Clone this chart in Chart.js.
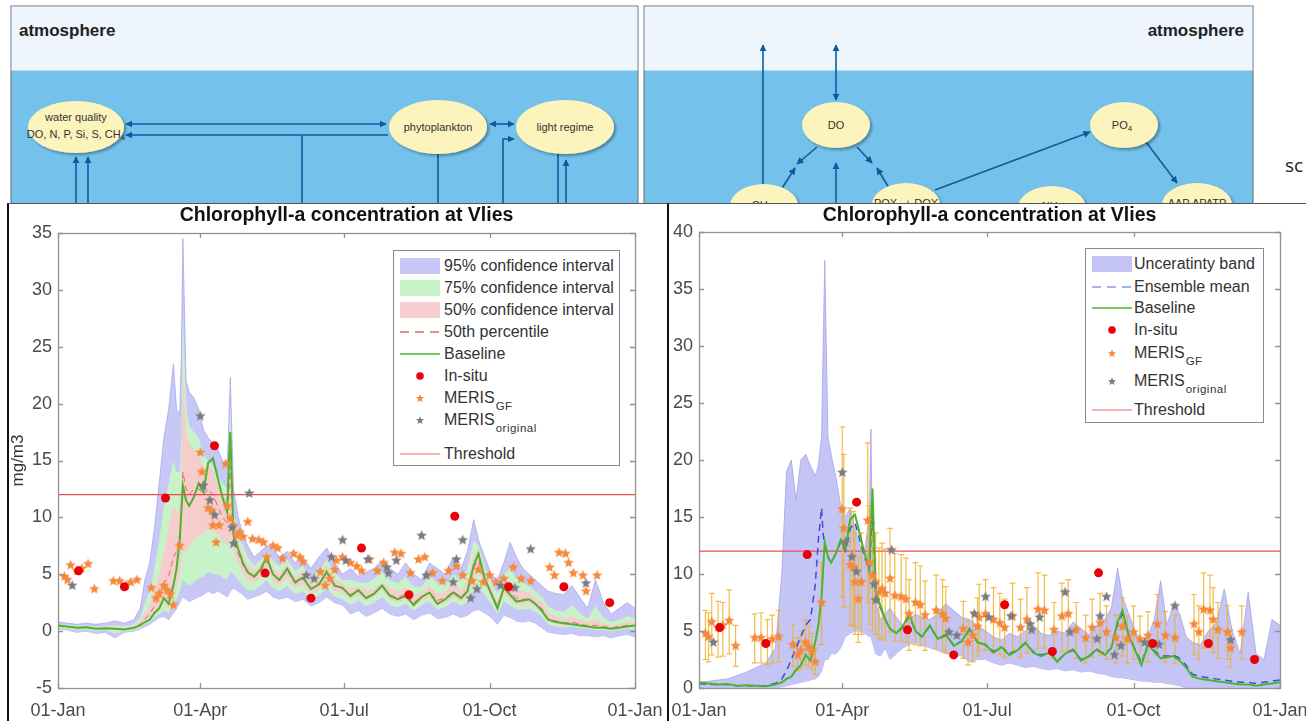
<!DOCTYPE html>
<html>
<head>
<meta charset="utf-8">
<script src="https://cdn.jsdelivr.net/npm/chart.js@4.4.1/dist/chart.umd.min.js"></script>
<style>
  body { margin: 0; width: 1306px; height: 721px; overflow: hidden; background: #fff; position: relative;
         font-family: "Liberation Sans", Arial, sans-serif; }
  .panel { position: absolute; top: 203px; height: 518px; background: #fff; box-sizing: border-box;
           border-top: 1px solid #555; border-left: 2px solid #111; }
  canvas { position: absolute; }
  .legend { position: absolute; background: #fff; border: 1px solid #8a8a8a; box-sizing: border-box; color: #333; font-size: 16px; }
  .lrow { position: absolute; left: 0; height: 20px; white-space: nowrap; }
  .lrow svg { position: absolute; left: 5px; top: 0; }
  .lrow span { position: absolute; top: 1px; line-height: 18px; }
  .lrow sub { font-size: 11.5px; vertical-align: -7px; margin-left: 1px; letter-spacing: 0.5px; }
</style>
</head>
<body>

<svg width="1306" height="210" style="position:absolute;left:0;top:0">
  <defs>
    <marker id="ah" viewBox="0 0 10 10" refX="9" refY="5" markerWidth="4.5" markerHeight="4.5" orient="auto-start-reverse">
      <path d="M0,0 L10,5 L0,10 z" fill="#0b5a9a"/>
    </marker>
    <filter id="sh" x="-20%" y="-20%" width="150%" height="150%">
      <feDropShadow dx="2" dy="2" stdDeviation="1.5" flood-color="#000" flood-opacity="0.35"/>
    </filter>
  </defs>
  <g stroke="#0d5c9e" stroke-width="1.6" fill="none">
    <rect x="11" y="6" width="627" height="200" fill="#74c2eb" stroke="#6b6b6b" stroke-width="1"/>
    <rect x="11.5" y="6.5" width="626" height="64" fill="#eef5fc" stroke="none"/>
    <rect x="644" y="6" width="609" height="200" fill="#74c2eb" stroke="#6b6b6b" stroke-width="1"/>
    <rect x="644.5" y="6.5" width="608" height="64" fill="#eef5fc" stroke="none"/>

    <line x1="126" y1="124" x2="386" y2="124" marker-start="url(#ah)" marker-end="url(#ah)"/>
    <line x1="388" y1="135" x2="126" y2="135" marker-end="url(#ah)"/>
    <line x1="302" y1="135" x2="302" y2="206"/>
    <line x1="490" y1="124" x2="514" y2="124" marker-start="url(#ah)" marker-end="url(#ah)"/>
    <polyline points="503,206 503,139 514,139" marker-end="url(#ah)"/>
    <line x1="76" y1="206" x2="76" y2="157" marker-end="url(#ah)"/>
    <line x1="88" y1="206" x2="88" y2="157" marker-end="url(#ah)"/>
    <line x1="438" y1="150" x2="438" y2="206"/>
    <line x1="558" y1="150" x2="558" y2="206"/>
    <line x1="566" y1="206" x2="566" y2="160" marker-end="url(#ah)"/>

    <line x1="763" y1="206" x2="763" y2="45" marker-end="url(#ah)"/>
    <line x1="836" y1="100" x2="836" y2="45" marker-start="url(#ah)" marker-end="url(#ah)"/>
    <line x1="817" y1="147" x2="797" y2="164" marker-end="url(#ah)"/>
    <line x1="779" y1="193" x2="795" y2="168" marker-end="url(#ah)"/>
    <line x1="857" y1="147" x2="872" y2="163" marker-end="url(#ah)"/>
    <line x1="892" y1="193" x2="877" y2="168" marker-end="url(#ah)"/>
    <line x1="836" y1="206" x2="836" y2="163" marker-end="url(#ah)"/>
    <line x1="935" y1="190" x2="1090" y2="132" marker-end="url(#ah)"/>
    <line x1="1143" y1="138" x2="1177" y2="183" marker-end="url(#ah)"/>
  </g>
  <g fill="#fbf4bd" filter="url(#sh)">
    <ellipse cx="76" cy="127" rx="48" ry="26"/>
    <ellipse cx="438" cy="127" rx="49" ry="27"/>
    <ellipse cx="565" cy="127" rx="49" ry="27"/>
    <ellipse cx="205" cy="226" rx="36" ry="23"/>
    <ellipse cx="836" cy="125" rx="34" ry="23"/>
    <ellipse cx="1124" cy="125" rx="34" ry="23"/>
    <ellipse cx="764" cy="206" rx="34" ry="22"/>
    <ellipse cx="906" cy="205" rx="34" ry="22"/>
    <ellipse cx="1052" cy="208" rx="34" ry="22"/>
    <ellipse cx="1197" cy="205" rx="35" ry="22"/>
  </g>
  <g font-family="Liberation Sans Narrow, Liberation Sans" fill="#333" font-size="11" text-anchor="middle">
    <text x="76" y="121">water quality</text>
    <text x="76" y="138">DO, N, P, Si, S, CH<tspan font-size="8" dy="2">4</tspan></text>
    <text x="438" y="131">phytoplankton</text>
    <text x="565" y="131">light regime</text>
    <text x="836" y="129">DO</text>
    <text x="1122" y="129">PO<tspan font-size="8" dy="2">4</tspan></text>
    <text x="762" y="209">CH<tspan font-size="8" dy="2">4</tspan></text>
    <text x="906" y="207">POX<tspan font-size="8" dy="2">4</tspan><tspan dy="-2"> + DOX</tspan></text>
    <text x="1052" y="210">NH<tspan font-size="8" dy="2">4</tspan></text>
    <text x="1197" y="207">AAP APATP</text>
  </g>
  <g font-family="Liberation Sans Narrow, Liberation Sans" font-weight="bold" font-size="17" fill="#222">
    <text x="19" y="36">atmosphere</text>
    <text x="1244" y="36" text-anchor="end">atmosphere</text>
  </g>
  <text x="1285" y="172" font-family="Open Sans" font-size="19" fill="#222">sc</text>
</svg>

<div class="panel" style="left:7px;width:661px"></div>
<div class="panel" style="left:667px;width:639px"></div>

<canvas id="left" width="660" height="518" style="left:8px;top:203px"></canvas>
<canvas id="right" width="638" height="518" style="left:668px;top:203px"></canvas>

<div id="legL" class="legend" style="left:393px;top:250px;width:227px;height:216px"></div>
<div id="legR" class="legend" style="left:1085px;top:248px;width:179px;height:175px"></div>

<script>
// day-of-year grid shared by the model curves
const days = [
  0, 6, 12, 18, 24, 30, 36, 42, 48, 52,
  55, 58, 61, 64, 67, 70, 73, 75, 77, 78,
  79, 81, 83, 86, 89, 92, 95, 98, 101, 104,
  107, 108, 109, 111, 114, 117, 120, 124, 128, 132,
  136, 140, 145, 150, 155, 160, 165, 170, 175, 180,
  185, 190, 195, 200, 205, 210, 215, 220, 225, 230,
  235, 240, 245, 250, 255, 259, 263, 266, 270, 274,
  278, 282, 286, 290, 294, 298, 302, 306, 310, 315,
  320, 325, 330, 335, 340, 345, 350, 355, 360, 365
];

const baseline = [
  0.5, 0.4, 0.3, 0.35, 0.2, 0.25, 0.2, 0.15, 0.3, 0.5,
  0.8, 1.0, 1.6, 2.0, 2.9, 2.4, 4.0, 5.5, 8.0, 10.5,
  12.8, 11.5, 11.0, 11.8, 13.0, 12.2, 14.8, 15.2, 13.5, 11.8,
  10.5, 14.5, 17.5, 8.5, 7.2, 6.0, 5.2, 4.8, 5.4, 6.5,
  5.0, 4.5, 5.5, 4.3, 4.7, 3.7, 4.1, 5.2, 4.0, 3.8,
  3.1, 3.6, 2.9, 3.3, 4.0, 3.1, 2.8, 3.1, 2.3, 3.0,
  3.4, 2.4, 2.8, 3.4, 2.9, 3.5, 5.8, 6.8, 4.6, 3.3,
  2.0, 3.8, 3.2, 2.6, 2.7, 2.8, 2.4, 1.8, 1.0, 0.8,
  0.7, 0.6, 0.5, 0.4, 0.3, 0.3, 0.2, 0.3, 0.4, 0.5
];

const ci95Hi = [
  0.8, 0.7, 0.6, 0.7, 0.6, 0.7, 0.9, 0.7, 1.0, 2.0,
  4.5, 6.0, 9.0, 13.0, 17.0, 19.5, 23.5, 19.5, 19.0, 24.0,
  34.5, 22.0, 21.0, 20.5, 19.5, 17.7, 17.0, 16.5, 16.0, 15.0,
  14.5, 18.0, 22.3, 12.5, 10.0, 8.5, 7.5, 6.5, 7.0, 7.5,
  7.3, 6.5, 7.0, 6.0, 6.5, 5.5, 6.5, 7.3, 6.0, 5.0,
  5.5, 4.8, 5.2, 5.5, 6.2, 5.5, 5.0, 6.0, 5.0, 4.5,
  6.0, 5.5, 5.0, 6.5, 5.5, 7.0, 9.8, 8.0, 6.5, 5.0,
  4.5, 6.0, 7.8, 6.5, 5.5, 5.0, 4.5, 4.0, 3.5, 3.3,
  3.2, 4.0, 3.0, 2.0, 4.5, 2.5, 1.5, 2.0, 2.5, 2.0
];
const ci95Lo = [
  0.2, 0.1, -0.1, 0.0, -0.2, -0.1, -0.6, -0.1, 0.0, 0.2,
  0.4, 0.6, 0.9, 1.2, 1.3, 1.0, 1.6, 2.0, 2.5, 2.8,
  3.0, 2.8, 2.6, 2.8, 3.0, 3.2, 3.5, 3.3, 3.5, 3.3,
  3.0, 3.2, 3.5, 3.8, 3.5, 3.2, 2.8, 3.0, 3.2, 3.5,
  3.0, 2.8, 3.0, 2.6, 2.8, 2.2, 2.5, 3.0, 2.5, 2.3,
  1.5, 1.8, 1.3, 1.6, 2.0, 1.5, 1.3, 1.5, 1.0, 1.4,
  1.6, 1.1, 1.2, 1.5, 1.2, 1.4, 1.8, 1.9, 1.6, 1.2,
  0.6, 1.4, 1.2, 0.9, 0.8, 0.9, 0.7, 0.3, -0.1, -0.2,
  -0.3, -0.2, -0.4, -0.4, -0.5, -0.4, -0.6, -0.4, -0.3, -0.5
];
const ci75Hi = [
  0.6, 0.55, 0.5, 0.5, 0.4, 0.45, 0.5, 0.4, 0.6, 1.2,
  2.5, 3.5, 5.5, 8.0, 11.0, 13.0, 15.0, 14.0, 14.0, 17.0,
  28.0, 20.0, 18.0, 17.5, 17.0, 15.5, 15.0, 14.5, 13.8, 13.0,
  12.5, 16.0, 20.0, 10.5, 8.5, 7.5, 6.5, 5.8, 6.2, 7.0,
  6.2, 5.7, 6.3, 5.3, 5.7, 4.7, 5.3, 6.3, 5.1, 4.5,
  4.5, 4.3, 4.2, 4.6, 5.2, 4.5, 4.2, 4.8, 3.9, 3.9,
  4.8, 4.2, 4.1, 5.0, 4.4, 5.5, 8.0, 7.5, 5.6, 4.3,
  3.3, 5.0, 5.5, 4.6, 4.3, 4.0, 3.5, 3.0, 2.2, 1.8,
  1.7, 2.3, 1.6, 1.1, 2.2, 1.2, 0.8, 1.0, 1.3, 1.1
];
const ci75Lo = [
  0.3, 0.2, 0.1, 0.15, 0.0, 0.1, -0.2, 0.0, 0.1, 0.3,
  0.6, 0.8, 1.2, 1.5, 1.8, 1.6, 2.4, 2.8, 3.5, 4.0,
  4.5, 4.2, 4.0, 4.3, 4.6, 4.8, 5.2, 5.0, 5.0, 4.7,
  4.5, 4.8, 5.2, 5.0, 4.5, 4.0, 3.6, 3.6, 4.0, 4.5,
  3.8, 3.5, 4.0, 3.2, 3.5, 2.8, 3.1, 3.8, 3.0, 2.8,
  2.3, 2.7, 2.2, 2.5, 3.0, 2.3, 2.1, 2.4, 1.8, 2.3,
  2.6, 1.9, 2.1, 2.6, 2.2, 2.6, 3.6, 3.8, 3.2, 2.4,
  1.5, 2.6, 2.3, 1.9, 1.9, 2.0, 1.7, 1.3, 0.6, 0.4,
  0.3, 0.4, 0.3, 0.2, 0.1, 0.1, 0.0, 0.1, 0.2, 0.2
];
const ci50Hi = [
  0.5, 0.45, 0.4, 0.4, 0.3, 0.35, 0.35, 0.3, 0.45, 0.8,
  1.6, 2.2, 3.5, 5.0, 7.0, 9.0, 11.0, 10.5, 11.0, 13.0,
  22.7, 17.5, 16.5, 16.0, 15.5, 14.5, 14.5, 14.2, 13.0, 12.0,
  11.5, 15.0, 18.5, 9.5, 7.8, 6.8, 5.9, 5.3, 5.8, 6.8,
  5.6, 5.1, 5.9, 4.8, 5.2, 4.2, 4.7, 5.8, 4.6, 4.2,
  3.8, 3.9, 3.6, 3.7, 4.3, 3.8, 3.5, 3.9, 3.1, 3.4,
  4.0, 3.3, 3.4, 4.2, 3.6, 4.5, 6.8, 7.2, 5.1, 3.8,
  2.6, 4.4, 4.2, 3.6, 3.5, 3.4, 2.9, 2.6, 1.6, 1.3,
  1.1, 1.3, 1.0, 0.8, 1.0, 0.7, 0.5, 0.6, 0.8, 0.8
];
const ci50Lo = [
  0.4, 0.3, 0.2, 0.25, 0.1, 0.15, 0.05, 0.05, 0.2, 0.4,
  0.7, 0.9, 1.4, 1.8, 2.4, 2.0, 3.2, 3.8, 5.0, 6.0,
  7.0, 7.0, 7.5, 8.0, 8.5, 8.5, 9.0, 8.8, 8.5, 8.0,
  7.5, 8.0, 8.5, 7.0, 6.0, 5.0, 4.5, 4.2, 4.7, 5.6,
  4.4, 4.0, 4.7, 3.7, 4.1, 3.2, 3.6, 4.5, 3.5, 3.3,
  2.8, 3.2, 2.6, 3.0, 3.6, 2.8, 2.5, 2.8, 2.1, 2.7,
  3.0, 2.2, 2.5, 3.0, 2.6, 3.0, 4.6, 5.3, 4.0, 3.0,
  1.8, 3.2, 2.8, 2.3, 2.3, 2.4, 2.1, 1.6, 0.8, 0.6,
  0.5, 0.5, 0.4, 0.3, 0.2, 0.2, 0.1, 0.2, 0.3, 0.4
];
const median50 = [
  0.45, 0.35, 0.3, 0.3, 0.2, 0.25, 0.2, 0.15, 0.3, 0.6,
  1.1, 1.5, 2.2, 3.0, 4.2, 4.8, 6.5, 7.0, 8.5, 10.0,
  14.0, 12.5, 12.0, 12.5, 12.5, 12.0, 12.5, 12.0, 11.0, 10.0,
  9.5, 12.0, 14.5, 8.2, 6.8, 5.8, 5.1, 4.7, 5.2, 6.2,
  5.0, 4.5, 5.3, 4.2, 4.6, 3.7, 4.1, 5.1, 4.0, 3.7,
  3.2, 3.5, 3.0, 3.3, 3.9, 3.2, 2.9, 3.3, 2.5, 3.0,
  3.4, 2.7, 2.9, 3.5, 3.0, 3.6, 5.6, 6.2, 4.5, 3.4,
  2.2, 3.8, 3.4, 2.9, 2.8, 2.8, 2.4, 2.0, 1.1, 0.9,
  0.7, 0.8, 0.6, 0.5, 0.5, 0.4, 0.3, 0.4, 0.5, 0.5
];

// right panel: ensemble uncertainty band and mean
const ensHi = [
  0.5, 0.6, 0.7, 0.8, 1.1, 1.4, 1.8, 2.2, 3.5, 10.0,
  19.0, 20.0, 16.5, 20.0, 20.5, 19.5, 18.6, 19.5, 22.0, 30.0,
  37.5, 22.0, 20.5, 18.5, 16.0, 15.0, 15.8, 14.0, 12.5, 12.0,
  15.0, 22.7, 12.0, 7.5, 6.0, 6.5, 7.0, 6.2, 5.5, 6.0,
  6.5, 6.2, 6.0, 6.5, 7.4, 6.8, 6.2, 6.0, 5.5, 5.0,
  4.5, 4.2, 4.8, 4.5, 5.0, 5.5, 4.8, 4.6, 5.0, 4.8,
  5.8, 5.2, 4.7, 5.5, 6.0, 7.0, 10.5, 8.0, 6.5, 5.0,
  4.0, 4.5, 6.0, 9.4, 5.5, 7.4, 6.5, 4.5, 4.0, 3.8,
  5.0, 5.7, 8.7, 5.0, 3.0, 8.4, 3.0, 2.5, 6.0, 5.5
];
const ensLo = [
  0.05, 0.0, 0.0, 0.0, 0.0, 0.0, 0.0, 0.0, 0.0, 0.1,
  0.2, 0.3, 0.4, 0.5, 0.6, 0.7, 0.8, 1.0, 1.5, 2.0,
  2.5, 2.5, 3.0, 3.0, 3.5, 4.5, 4.8, 5.0, 5.0, 4.8,
  4.5, 4.5, 4.0, 3.0, 2.8, 3.5, 2.5, 3.0, 3.5, 3.8,
  4.0, 3.8, 3.5, 3.3, 3.0, 3.0, 2.8, 2.3, 2.5, 2.5,
  2.2, 2.0, 2.2, 2.0, 1.8, 1.9, 1.7, 1.6, 1.7, 1.5,
  1.6, 1.4, 1.5, 1.3, 1.2, 1.0, 0.9, 0.9, 0.8, 0.7,
  0.6, 0.6, 0.5, 0.5, 0.4, 0.3, 0.2, 0.0, 0.0, 0.0,
  0.0, 0.0, 0.0, 0.0, 0.0, 0.0, 0.0, 0.0, 0.0, 0.0
];
const ensMean = [
  0.4, 0.3, 0.3, 0.3, 0.2, 0.2, 0.2, 0.2, 0.4, 0.8,
  1.5, 2.5, 3.5, 4.5, 5.5, 6.0, 9.0, 13.0, 15.8, 13.5,
  12.5, 11.5, 11.0, 11.8, 12.8, 12.0, 14.0, 14.5, 13.0, 11.5,
  10.3, 13.0, 15.5, 8.3, 7.0, 6.0, 5.2, 4.8, 5.3, 6.3,
  5.0, 4.5, 5.4, 4.3, 4.6, 3.8, 4.1, 5.1, 4.0, 3.8,
  3.2, 3.6, 3.0, 3.3, 3.9, 3.2, 2.9, 3.1, 2.4, 3.0,
  3.3, 2.5, 2.8, 3.3, 3.0, 3.5, 5.6, 6.5, 4.6, 3.4,
  2.2, 3.8, 3.3, 2.8, 2.8, 2.9, 2.6, 2.0, 1.2, 1.0,
  0.9, 0.8, 0.7, 0.6, 0.5, 0.5, 0.4, 0.5, 0.6, 0.7
];

const threshold = 12;

const insituDays = [13, 42, 68, 99, 131, 160, 192, 222, 251, 285, 320, 349];
const insituVals = [5.3, 3.9, 11.7, 16.3, 5.1, 2.9, 7.3, 3.2, 10.1, 3.9, 3.9, 2.5];

const origDays = [9, 90, 92, 96, 99, 110, 111, 121, 157, 162, 173, 180, 182, 196, 208,
                  209, 214, 230, 233, 250, 252, 256, 261, 265, 280, 289, 299, 334];
const origVals = [4.0, 18.9, 12.8, 11.5, 10.2, 9.1, 7.7, 12.1, 4.9, 4.6, 6.5, 8.0, 6.2, 6.3, 5.6,
                  5.1, 6.2, 8.4, 4.9, 4.3, 6.3, 8.0, 2.9, 3.7, 4.0, 3.8, 7.2, 4.2];

const gfDays = [
  4, 6, 8, 12, 15, 19, 23, 35, 39, 43,
  46, 50, 59, 62, 64, 67, 69, 71, 73, 77,
  90, 91, 95, 97, 98, 100, 102, 106, 107, 109,
  111, 113, 115, 117, 120, 123, 127, 130, 132, 136,
  139, 142, 149, 153, 155, 166, 169, 172, 175, 176,
  180, 185, 189, 192, 197, 202, 206, 213, 217, 223,
  228, 232, 237, 243, 247, 252, 256, 262, 266, 269,
  273, 277, 282, 288, 293, 299, 311, 314, 317, 321,
  323, 326, 332, 334, 341
];
const gfVals = [
  4.8, 4.5, 5.8, 5.3, 5.5, 5.9, 3.7, 4.4, 4.4, 4.0,
  4.3, 4.5, 3.8, 2.9, 3.3, 4.0, 3.6, 3.2, 2.3, 7.5,
  15.7, 14.0, 10.8, 10.6, 9.3, 7.8, 9.3, 14.7, 11.0, 9.9,
  9.3, 8.4, 8.7, 8.3, 9.6, 8.1, 8.0, 7.8, 6.5, 7.5,
  7.3, 6.4, 6.8, 6.5, 6.1, 5.2, 4.0, 4.6, 5.4, 6.2,
  6.5, 6.0, 5.7, 5.3, 6.3, 5.3, 6.0, 6.9, 6.8, 5.1,
  6.3, 6.5, 5.1, 4.4, 5.3, 5.7, 4.9, 4.4, 5.4, 4.3,
  4.9, 4.3, 4.6, 5.6, 4.6, 4.4, 5.6, 4.9, 6.9, 6.8,
  6.0, 5.1, 4.9, 3.5, 4.9
];
// MERIS_GF uncertainty (error bar ends, right panel)
const gfHi = [
  6.8, 6.6, 8.3, 7.6, 7.5, 8.6, 5.5, 6.5, 6.6, 6.0,
  6.4, 6.8, 5.6, 4.4, 5.0, 6.0, 5.4, 4.8, 3.5, 11.0,
  22.9, 20.5, 15.8, 15.5, 13.6, 11.5, 13.6, 21.5, 16.0, 14.5,
  13.6, 12.3, 12.7, 12.2, 14.0, 11.8, 11.7, 11.4, 9.5, 11.0,
  10.7, 9.4, 9.9, 9.5, 8.9, 7.6, 5.9, 6.7, 7.9, 9.1,
  9.5, 8.8, 8.3, 7.8, 9.2, 7.8, 8.8, 10.1, 9.9, 7.5,
  9.2, 9.5, 7.5, 6.4, 7.8, 8.3, 7.2, 6.4, 7.9, 6.3,
  7.2, 6.3, 6.7, 8.2, 6.7, 6.4, 8.2, 7.2, 10.1, 9.9,
  8.8, 7.5, 7.2, 5.1, 7.2
];
const gfLo = [
  2.5, 2.3, 2.9, 2.7, 2.8, 3.0, 1.9, 2.2, 2.2, 2.0,
  2.2, 2.3, 1.9, 1.5, 1.7, 2.0, 1.8, 1.6, 1.2, 3.8,
  8.0, 7.1, 5.5, 5.4, 4.7, 4.0, 4.7, 7.5, 5.6, 5.0,
  4.7, 4.3, 4.4, 4.2, 4.9, 4.1, 4.1, 4.0, 3.3, 3.8,
  3.7, 3.3, 3.5, 3.3, 3.1, 2.6, 2.0, 2.3, 2.8, 3.2,
  3.3, 3.1, 2.9, 2.7, 3.2, 2.7, 3.1, 3.5, 3.5, 2.6,
  3.2, 3.3, 2.6, 2.2, 2.7, 2.9, 2.5, 2.2, 2.8, 2.2,
  2.5, 2.2, 2.3, 2.9, 2.3, 2.2, 2.9, 2.5, 3.5, 3.5,
  3.1, 2.6, 2.5, 1.8, 2.5
];

const xTickDays = [0, 90, 181, 273, 365];
const xTickLabels = ['01-Jan', '01-Apr', '01-Jul', '01-Oct', '01-Jan'];

const C = {
  band95: '#c8c8f7', band95Edge: '#a7a7ee',
  band75: '#c8f2c8', band50: '#f6cdcd',
  median: '#e86464', base: '#4ab52c', insitu: '#e8000b',
  gf: '#f5893a', orig: '#7b7b82', thr: '#ec4f4f',
  ensBand: '#c4c4f5', ensEdge: '#a3a3ec', ensMean: '#3a4fd6', err: 'rgba(240,176,40,0.85)'
};

const pts = (xs, ys) => xs.map((x, i) => ({ x: x, y: ys[i] }));

function makeStar(color, r) {
  const c = document.createElement('canvas');
  const s = Math.ceil(r * 2 + 2);
  c.width = s; c.height = s;
  const g = c.getContext('2d');
  g.beginPath();
  for (let i = 0; i < 10; i++) {
    const rr = i % 2 ? r * 0.45 : r;
    const a = -Math.PI / 2 + i * Math.PI / 5;
    g.lineTo(s / 2 + rr * Math.cos(a), s / 2 + rr * Math.sin(a));
  }
  g.closePath();
  g.fillStyle = color;
  g.fill();
  return c;
}
const starGF = makeStar(C.gf, 5.5);
const starOrig = makeStar(C.orig, 5.5);

// error bars as broken line segments
const errPts = [];
gfDays.forEach((d, i) => {
  errPts.push({ x: d, y: gfLo[i] }, { x: d, y: gfHi[i] }, { x: d, y: null },
    { x: d - 1.8, y: gfHi[i] }, { x: d + 1.8, y: gfHi[i] }, { x: d, y: null },
    { x: d - 1.8, y: gfLo[i] }, { x: d + 1.8, y: gfLo[i] }, { x: d, y: null });
});

// matlab-like box, inward ticks and title
const boxPlugin = {
  id: 'matlabBox',
  afterDatasetsDraw(chart, args, opts) {
    const { ctx, chartArea: a } = chart;
    const x = chart.scales.x, y = chart.scales.y;
    ctx.save();
    ctx.strokeStyle = '#929292';
    ctx.lineWidth = 1.3;
    ctx.strokeRect(Math.round(a.left) + 0.5, Math.round(a.top) + 0.5,
      Math.round(a.right - a.left), Math.round(a.bottom - a.top));
    ctx.beginPath();
    y.ticks.forEach(t => {
      const py = Math.round(y.getPixelForValue(t.value)) + 0.5;
      ctx.moveTo(a.left, py); ctx.lineTo(a.left + 5, py);
      ctx.moveTo(a.right, py); ctx.lineTo(a.right - 5, py);
    });
    x.ticks.forEach(t => {
      const px = Math.round(x.getPixelForValue(t.value)) + 0.5;
      ctx.moveTo(px, a.bottom); ctx.lineTo(px, a.bottom - 5);
      ctx.moveTo(px, a.top); ctx.lineTo(px, a.top + 5);
    });
    ctx.stroke();
    ctx.font = 'bold 19.5px "Liberation Sans", Arial, sans-serif';
    ctx.fillStyle = '#111';
    ctx.textAlign = 'center';
    ctx.textBaseline = 'middle';
    ctx.fillText(opts.title, (a.left + a.right) / 2, a.top - opts.titleOffset);
    ctx.restore();
  }
};

const tickFont = { family: '"Liberation Sans", Arial, sans-serif', size: 18 };

function scales(yMin, yMax, yWidth, yTitle) {
  return {
    x: {
      type: 'linear', min: 0, max: 365,
      afterBuildTicks: s => { s.ticks = xTickDays.map(v => ({ value: v })); },
      afterFit: s => { s.height = 33; s.paddingLeft = 0; s.paddingRight = 0; },
      ticks: {
        autoSkip: false, maxRotation: 0, padding: 12, color: '#4a4a4a', font: tickFont,
        callback: v => xTickLabels[xTickDays.indexOf(v)]
      },
      grid: { display: false, drawTicks: false },
      border: { display: false }
    },
    y: {
      min: yMin, max: yMax,
      afterFit: s => { s.width = yWidth; s.paddingTop = 0; s.paddingBottom = 0; },
      ticks: { stepSize: 5, padding: 6, color: '#4a4a4a', font: tickFont },
      grid: { display: false, drawTicks: false },
      border: { display: false },
      title: {
        display: !!yTitle, text: yTitle, color: '#333',
        font: { family: '"Liberation Sans", Arial, sans-serif', size: 17 }, padding: 0
      }
    }
  };
}

const line = (data, color, width, extra) => Object.assign({
  type: 'line', data: data, borderColor: color, borderWidth: width,
  pointRadius: 0, fill: false, tension: 0
}, extra || {});
const scatter = (data, style, order, extra) => Object.assign({
  type: 'line', data: data, showLine: false, pointStyle: style, pointRadius: 5,
  order: order
}, extra || {});

new Chart(document.getElementById('left'), {
  type: 'line',
  data: {
    datasets: [
      line(pts(days, ci95Lo), C.band95Edge, 0.8, { order: 20 }),
      line(pts(days, ci95Hi), C.band95Edge, 0.8, { order: 19, fill: { target: 0 }, backgroundColor: C.band95 }),
      line(pts(days, ci75Lo), C.band75, 0, { order: 18 }),
      line(pts(days, ci75Hi), C.band75, 0, { order: 17, fill: { target: 2 }, backgroundColor: C.band75 }),
      line(pts(days, ci50Lo), C.band50, 0, { order: 16 }),
      line(pts(days, ci50Hi), C.band50, 0, { order: 15, fill: { target: 4 }, backgroundColor: C.band50 }),
      line(pts(days, median50), C.median, 1, { order: 14, borderDash: [6, 4] }),
      line(pts(days, baseline), C.base, 2, { order: 13 }),
      line([{ x: 0, y: threshold }, { x: 365, y: threshold }], C.thr, 1.2, { order: 12 }),
      scatter(pts(gfDays, gfVals), starGF, 4),
      scatter(pts(origDays, origVals), starOrig, 3),
      scatter(pts(insituDays, insituVals), 'circle', 2,
        { pointRadius: 4.5, backgroundColor: C.insitu, borderColor: C.insitu, borderWidth: 0 })
    ]
  },
  options: {
    responsive: false, animation: false, devicePixelRatio: 1,
    layout: { padding: { left: 0, right: 33, top: 30, bottom: 0 } },
    scales: scales(-5, 35, 50, 'mg/m3'),
    plugins: {
      legend: { display: false }, tooltip: { enabled: false },
      matlabBox: { title: 'Chlorophyll-a concentration at Vlies', titleOffset: 17 }
    }
  },
  plugins: [boxPlugin]
});

new Chart(document.getElementById('right'), {
  type: 'line',
  data: {
    datasets: [
      line(pts(days, ensLo), C.ensEdge, 0.8, { order: 20 }),
      line(pts(days, ensHi), C.ensEdge, 0.8, { order: 19, fill: { target: 0 }, backgroundColor: C.ensBand }),
      line([{ x: 0, y: threshold }, { x: 365, y: threshold }], C.thr, 1.2, { order: 9 }),
      line(errPts, C.err, 1.2, { order: 8, spanGaps: false }),
      line(pts(days, ensMean), C.ensMean, 1.5, { order: 7, borderDash: [7, 5] }),
      line(pts(days, baseline), C.base, 2, { order: 6 }),
      scatter(pts(gfDays, gfVals), starGF, 4),
      scatter(pts(origDays, origVals), starOrig, 3),
      scatter(pts(insituDays, insituVals), 'circle', 2,
        { pointRadius: 4.5, backgroundColor: C.insitu, borderColor: C.insitu, borderWidth: 0 })
    ]
  },
  options: {
    responsive: false, animation: false, devicePixelRatio: 1,
    layout: { padding: { left: 0, right: 26, top: 29, bottom: 0 } },
    scales: scales(0, 40, 31, ''),
    plugins: {
      legend: { display: false }, tooltip: { enabled: false },
      matlabBox: { title: 'Chlorophyll-a concentration at Vlies', titleOffset: 16 }
    }
  },
  plugins: [boxPlugin]
});

// legends (html overlay, like the matlab legend box)
function swatch(kind, color) {
  let s = '<svg width="42" height="20">';
  if (kind === 'fill') s += `<rect x="1" y="2" width="40" height="16" fill="${color}"/>`;
  if (kind === 'line') s += `<line x1="1" y1="10" x2="41" y2="10" stroke="${color}" stroke-width="1.6"/>`;
  if (kind === 'dash') s += `<line x1="1" y1="10" x2="41" y2="10" stroke="${color}" stroke-width="1.4" stroke-dasharray="9,6"/>`;
  if (kind === 'dot') s += `<circle cx="21" cy="10" r="3.8" fill="${color}"/>`;
  if (kind === 'star') {
    let p = [];
    for (let i = 0; i < 10; i++) {
      const r = i % 2 ? 1.9 : 4.3, a = -Math.PI / 2 + i * Math.PI / 5;
      p.push((21 + r * Math.cos(a)).toFixed(2) + ',' + (10.5 + r * Math.sin(a)).toFixed(2));
    }
    s += `<polygon points="${p.join(' ')}" fill="${color}"/>`;
  }
  return s + '</svg>';
}
function buildLegend(id, textLeft, items) {
  const box = document.getElementById(id);
  items.forEach(it => {
    const row = document.createElement('div');
    row.className = 'lrow';
    row.style.top = (it.y - 10) + 'px';
    row.innerHTML = swatch(it.kind, it.color) + `<span style="left:${textLeft}px">${it.label}</span>`;
    box.appendChild(row);
  });
}
buildLegend('legL', 50, [
  { y: 15, kind: 'fill', color: C.band95, label: '95% confidence interval' },
  { y: 37, kind: 'fill', color: C.band75, label: '75% confidence interval' },
  { y: 59, kind: 'fill', color: C.band50, label: '50% confidence interval' },
  { y: 81, kind: 'dash', color: C.median, label: '50th percentile' },
  { y: 103, kind: 'line', color: C.base, label: 'Baseline' },
  { y: 125, kind: 'dot', color: C.insitu, label: 'In-situ' },
  { y: 147, kind: 'star', color: C.gf, label: 'MERIS<sub>GF</sub>' },
  { y: 169, kind: 'star', color: C.orig, label: 'MERIS<sub>original</sub>' },
  { y: 203, kind: 'line', color: '#f19a9a', label: 'Threshold' }
]);
buildLegend('legR', 48, [
  { y: 15, kind: 'fill', color: C.ensBand, label: 'Unceratinty band' },
  { y: 38, kind: 'dash', color: '#8f94e0', label: 'Ensemble mean' },
  { y: 59, kind: 'line', color: C.base, label: 'Baseline' },
  { y: 81, kind: 'dot', color: C.insitu, label: 'In-situ' },
  { y: 104, kind: 'star', color: C.gf, label: 'MERIS<sub>GF</sub>' },
  { y: 132, kind: 'star', color: C.orig, label: 'MERIS<sub>original</sub>' },
  { y: 161, kind: 'line', color: '#f19a9a', label: 'Threshold' }
]);
</script>
</body>
</html>
